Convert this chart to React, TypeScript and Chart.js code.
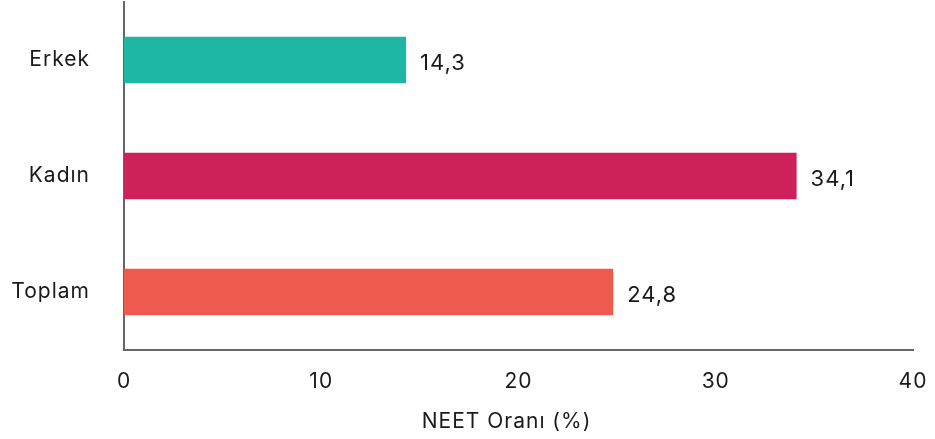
import React, { useEffect, useRef } from "react";
import { Chart, registerables } from "chart.js";

Chart.register(...registerables);

const categories = ["Erkek", "Kadın", "Toplam"];
const values = [14.3, 34.1, 24.8];
const barColors = ["#1eb7a4", "#cc2159", "#ef5a4e"];
const xTicks = [0, 10, 20, 30, 40];
const xTitle = "NEET Oranı (%)";

const FONT = "Inter";
const TEXT = "#1a1a1a";

const spacing = {
  id: "spacing",
  beforeDraw(chart: any) {
    chart.ctx.letterSpacing = "1px";
  },
};

const valueLabels = {
  id: "valueLabels",
  afterDatasetsDraw(chart: any) {
    const ctx = chart.ctx;
    const meta = chart.getDatasetMeta(0);
    ctx.save();
    ctx.font = `22px ${FONT}`;
    ctx.fillStyle = TEXT;
    ctx.textAlign = "left";
    ctx.textBaseline = "middle";
    meta.data.forEach((bar: any, i: number) => {
      const txt = values[i].toFixed(1).replace(".", ",");
      ctx.fillText(txt, bar.x + 14, bar.y + 3);
    });
    ctx.restore();
  },
};

const axisTitle = {
  id: "axisTitle",
  afterDraw(chart: any) {
    const ctx = chart.ctx;
    const ca = chart.chartArea;
    ctx.save();
    ctx.font = `21px ${FONT}`;
    ctx.fillStyle = TEXT;
    ctx.textAlign = "center";
    ctx.textBaseline = "middle";
    ctx.fillText(xTitle, (ca.left + ca.right) / 2 - 12, ca.bottom + 72);
    ctx.restore();
  },
};

export default function App() {
  const ref = useRef<HTMLCanvasElement>(null);
  useEffect(() => {
    document.body.style.margin = "0";
    const chart = new Chart(ref.current!, {
      type: "bar",
      data: {
        labels: categories,
        datasets: [
          {
            data: values,
            backgroundColor: barColors,
            borderWidth: 0,
            barPercentage: 0.4,
            categoryPercentage: 1,
          },
        ],
      },
      plugins: [spacing, valueLabels, axisTitle],
      options: {
        indexAxis: "y",
        animation: false,
        responsive: false,
        maintainAspectRatio: false,
        layout: { padding: { top: 2, right: 22, left: 0, bottom: 0 } },
        plugins: { legend: { display: false }, tooltip: { enabled: false } },
        scales: {
          x: {
            min: 0,
            max: 40,
            afterBuildTicks(scale: any) {
              scale.ticks = xTicks.map((v) => ({ value: v }));
            },
            afterFit(scale: any) {
              scale.height = 89;
              scale.paddingLeft = 0;
              scale.paddingRight = 0;
            },
            grid: { display: false },
            border: { display: true, color: "#666666", width: 2 },
            ticks: {
              padding: 11,
              color: TEXT,
              font: { family: FONT, size: 21 },
            },
          },
          y: {
            afterFit(scale: any) {
              scale.width = 124;
              scale.paddingTop = 0;
              scale.paddingBottom = 0;
            },
            grid: { display: false },
            border: { display: true, color: "#666666", width: 2 },
            ticks: {
              padding: 26,
              color: TEXT,
              font: { family: FONT, size: 21 },
            },
          },
        },
      },
    });
    return () => chart.destroy();
  }, []);
  return (
    <div style={{ width: 935, height: 439 }}>
      <canvas ref={ref} width={935} height={439} style={{ display: "block" }} />
    </div>
  );
}
